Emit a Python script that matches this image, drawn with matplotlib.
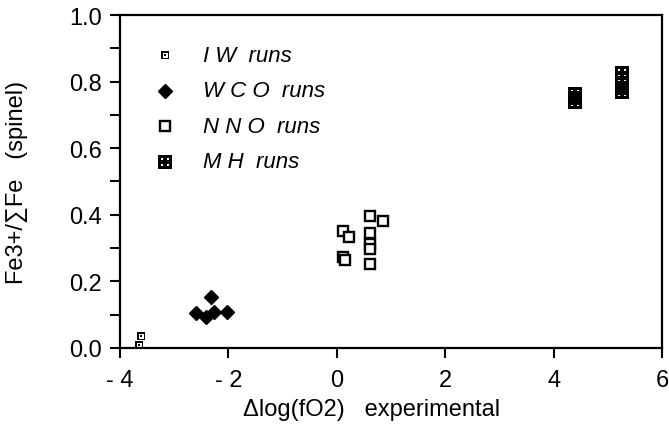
import matplotlib
matplotlib.use("Agg")
import matplotlib.pyplot as plt
import numpy as np
from matplotlib.path import Path

plt.rcParams['font.family'] = ['Liberation Sans', 'DejaVu Sans']

# data
IW_x = [-3.65, -3.6]
IW_y = [0.01, 0.035]
WCO_x = [-2.32, -2.59, -2.41, -2.27, -2.02]
WCO_y = [0.152, 0.104, 0.092, 0.107, 0.107]
NNO_x = [0.12, 0.23, 0.12, 0.15, 0.62, 0.86, 0.62, 0.62, 0.62, 0.62]
NNO_y = [0.352, 0.332, 0.272, 0.265, 0.397, 0.38, 0.346, 0.312, 0.297, 0.252]
MH_x = [4.39, 4.39, 4.39, 5.26, 5.26, 5.26, 5.26, 5.26]
MH_y = [0.74, 0.75, 0.762, 0.768, 0.782, 0.797, 0.812, 0.825]

x_ticks = [-4, -2, 0, 2, 4, 6]
x_ticklabels = ["- 4", "- 2", "0", "2", "4", "6"]
y_ticks = [0.0, 0.2, 0.4, 0.6, 0.8, 1.0]
legend_labels = ["I W  runs", "W C O  runs", "N N O  runs", "M H  runs"]


#   square outline as path pieces (ccw = outer, cw = hole)
def sq(cx, cy, h, ccw=True):
    pts = [(cx - h, cy - h), (cx + h, cy - h), (cx + h, cy + h), (cx - h, cy + h)]
    if not ccw:
        pts = pts[::-1]
    return pts + [pts[0]], [Path.MOVETO, Path.LINETO, Path.LINETO, Path.LINETO, Path.CLOSEPOLY]


def compound(parts):
    verts, codes = [], []
    for v, c in parts:
        verts += v
        codes += c
    return Path(verts, codes)


# IW: open square with a dot in it
iw_marker = compound([sq(0, 0, 1), sq(0, 0, 0.6, False), sq(0, 0, 0.25)])
# MH: black square with a grid of white holes
mh_marker = compound([sq(0, 0, 1)] + [sq(dx, dy, 0.15, False)
                                      for dx in (-0.4, 0.4) for dy in (-0.4, 0.4)])

iw_style = dict(marker=iw_marker, markersize=6, color='black', markeredgewidth=0)
wco_style = dict(marker='D', markersize=7, color='black')
nno_style = dict(marker='s', markersize=7.5, markerfacecolor='white',
                 markeredgecolor='black', markeredgewidth=1.7)
mh_style = dict(marker=mh_marker, markersize=10, color='black', markeredgewidth=0)

fig = plt.figure(figsize=(6.69, 4.35), dpi=100)
ax = fig.add_axes([0.179, 0.198, 0.811, 0.765])

ax.plot(IW_x, IW_y, linestyle='none', **iw_style)
ax.plot(WCO_x, WCO_y, linestyle='none', **wco_style)
ax.plot(NNO_x, NNO_y, linestyle='none', **nno_style)
ax.plot(MH_x, MH_y, linestyle='none', **mh_style)

# hand-made legend (no box)
leg_x, leg_y, leg_dy = -3.17, 0.88, 0.107
for i, (lab, st) in enumerate(zip(legend_labels, [iw_style, wco_style, nno_style, mh_style])):
    yy = leg_y - i * leg_dy
    ax.plot([leg_x], [yy], linestyle='none', clip_on=False, **st)
    ax.text(leg_x + 0.7, yy, lab, fontsize=16, style='italic', va='center', ha='left')

ax.set_xlim(-4, 6)
ax.set_ylim(0, 1.0)
ax.set_xticks(x_ticks)
ax.set_xticklabels(x_ticklabels)
ax.set_yticks(y_ticks)
ax.set_yticklabels(["%.1f" % v for v in y_ticks])
ax.set_yticks(np.arange(0.1, 1.0, 0.2), minor=True)

ax.tick_params(axis='both', which='major', direction='out', length=7, width=1.5,
               labelsize=17)
ax.tick_params(axis='x', which='major', pad=8)
ax.tick_params(axis='y', which='major', pad=6)
ax.tick_params(axis='y', which='minor', direction='out', length=7, width=1.5)

for sp in ax.spines.values():
    sp.set_linewidth(1.6)

ax.set_xlabel("Δlog(fO2)   experimental", fontsize=17)
ax.set_ylabel("Fe3+/∑Fe   (spinel)", fontsize=17)
ax.xaxis.set_label_coords(0.465, -0.15)
ax.yaxis.set_label_coords(-0.17, 0.5)

fig.savefig("out.png", dpi=100)
